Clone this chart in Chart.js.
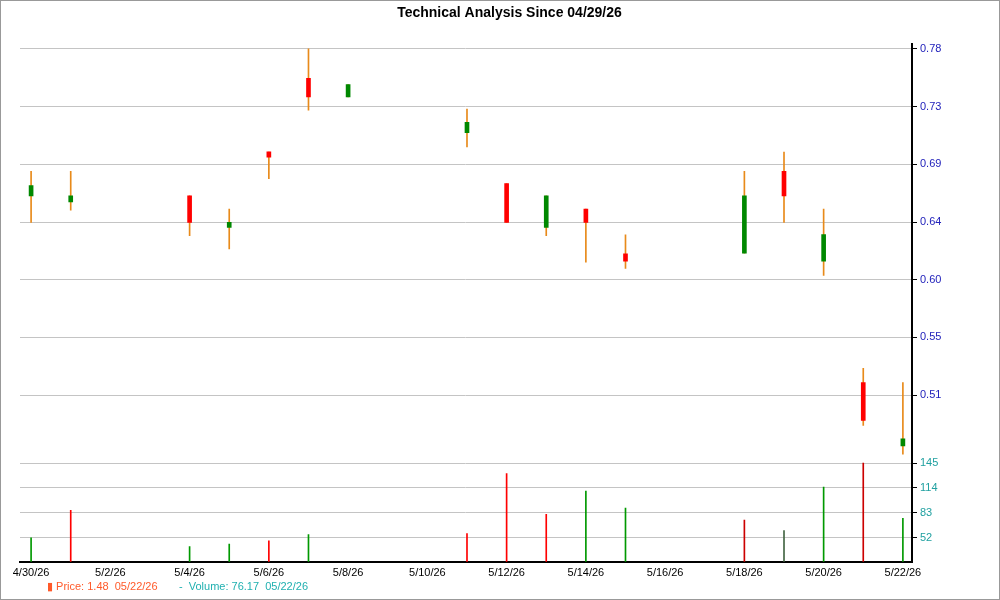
<!DOCTYPE html>
<html><head><meta charset="utf-8">
<script src="https://cdn.jsdelivr.net/npm/chart.js@4"></script>
<style>
html,body{margin:0;padding:0;background:#fff;}
#wrap{position:relative;width:998px;height:598px;border:1px solid #999;}
#legend{position:absolute;left:46px;top:579px;font:11px "Liberation Sans",Arial,sans-serif;}
</style></head>
<body><div id="wrap"><canvas id="c" width="998" height="598"></canvas>
<div id="legend"><span style="color:#ff5a2a">&#9646; Price: 1.48 &nbsp;05/22/26</span>&nbsp;&nbsp;&nbsp;&nbsp;&nbsp;&nbsp;&nbsp;<span style="color:#20b0b0">- &nbsp;Volume: 76.17 &nbsp;05/22/26</span></div></div>
<script>
// day offsets from 4/30/26
const days   = [0,1,4,5,6,7,8,11,12,13,14,15,18,19,20,21,22];
const opens  = [0.6654,0.6606,0.6654,0.6407,0.6996,0.7569,0.7426,0.7147,0.6749,0.6407,0.6550,0.6200,0.6208,0.6845,0.6144,0.5197,0.4704];
const highs  = [0.6845,0.6845,0.6654,0.6550,0.6996,0.7800,0.7521,0.7330,0.6749,0.6654,0.6550,0.6351,0.6845,0.6996,0.6550,0.5309,0.5197];
const lows   = [0.6447,0.6542,0.6343,0.6240,0.6789,0.7322,0.7426,0.7036,0.6447,0.6343,0.6136,0.6089,0.6208,0.6447,0.6033,0.4863,0.4640];
const closes = [0.6733,0.6654,0.6447,0.6447,0.6956,0.7426,0.7521,0.7227,0.6447,0.6654,0.6447,0.6144,0.6654,0.6654,0.6351,0.4903,0.4759];
const volDays = [0,1,4,5,6,7,11,12,13,14,15,18,19,20,21,22];
const volumes = [52,86,41,44,48,56,57,132,81,110,89,74,61,115,145,76];
const volColors = ['#009900','#ff0000','#009900','#009900','#ff0000','#009900','#ff0000','#ff0000','#ff0000','#009900','#009900','#cc0000','#446644','#009900','#cc0000','#009900'];
const priceTicks = [0.78,0.735,0.69,0.645,0.60,0.555,0.51];
const priceTickLabels = ['0.78','0.73','0.69','0.64','0.60','0.55','0.51'];
const volTicks = [52,83,114,145];
const xTickDays = [0,2,4,6,8,10,12,14,16,18,20,22];
const xTickLabels = ['4/30/26','5/2/26','5/4/26','5/6/26','5/8/26','5/10/26','5/12/26','5/14/26','5/16/26','5/18/26','5/20/26','5/22/26'];

const wicks = days.map((d,i)=>({x:d,y:[lows[i],highs[i]]}));
const bodies = days.map((d,i)=>({x:d,y:[Math.min(opens[i],closes[i]),Math.max(opens[i],closes[i])+0.0001]}));
const bodyColors = days.map((d,i)=>closes[i]>=opens[i]?'#008800':'#ff0000');
const vols = volDays.map((d,i)=>({x:d,y:volumes[i]}));
const F = '"Liberation Sans", Arial, sans-serif';
const grid = {color:'#c4c4c4',borderDash:[3,2],drawTicks:true,tickLength:5,tickColor:'#000'};
function fitW(s){s.width=87;}
new Chart(document.getElementById('c'),{
  type:'bar',
  data:{datasets:[
    {data:wicks,backgroundColor:'#e88a1a',barThickness:1,grouped:false,yAxisID:'y',order:2},
    {data:bodies,backgroundColor:bodyColors,borderColor:bodyColors,barThickness:4,grouped:false,yAxisID:'y',order:1},
    {data:vols,backgroundColor:volColors,barThickness:1,grouped:false,yAxisID:'yv',order:3}
  ]},
  options:{
    responsive:false,animation:false,
    layout:{padding:{left:19,right:0,top:4,bottom:19}},
    plugins:{legend:{display:false},tooltip:{enabled:false},
      title:{display:true,text:'Technical Analysis Since 04/29/26',color:'#000',font:{family:F,size:14,weight:'bold'},padding:{top:0,bottom:22}}},
    scales:{
      x:{type:'linear',min:-0.28,max:22.23,offset:false,
        afterBuildTicks:s=>{s.ticks=xTickDays.map(v=>({value:v}));},
        ticks:{callback:(v)=>xTickLabels[xTickDays.indexOf(v)],color:'#000',font:{family:F,size:11},maxRotation:0,autoSkip:false,padding:0},
        grid:{display:false,drawTicks:true,tickLength:5,tickColor:'#000'},border:{color:'#000',width:2}},
      y:{position:'right',stack:'s',stackWeight:4,min:0.4608,max:0.784,offset:false,
        afterBuildTicks:s=>{s.ticks=priceTicks.map(v=>({value:v}));},afterFit:fitW,
        ticks:{callback:(v)=>priceTickLabels[priceTicks.indexOf(v)],color:'#2222bb',font:{family:F,size:11},padding:3,autoSkip:false},
        grid:grid,border:{color:'#000',width:2}},
      yv:{position:'right',stack:'s',stackWeight:1,min:22,max:151,offset:false,
        afterBuildTicks:s=>{s.ticks=volTicks.map(v=>({value:v}));},afterFit:fitW,
        ticks:{color:'#20a0a0',font:{family:F,size:11},padding:3,autoSkip:false},
        grid:grid,border:{color:'#000',width:2}}
    }
  }
});
</script></body></html>
